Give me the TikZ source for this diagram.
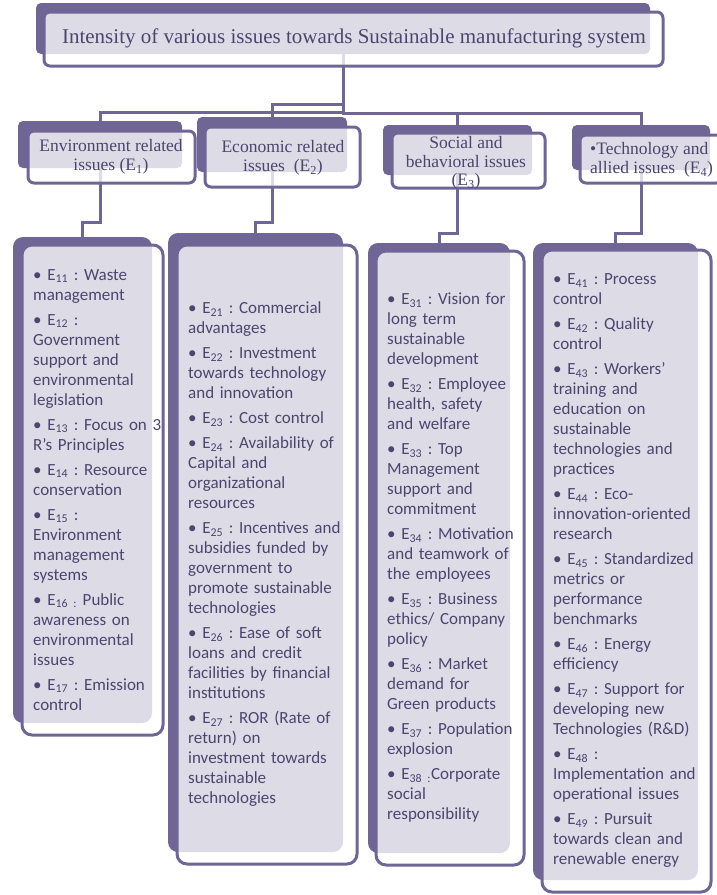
\documentclass[tikz,border=0pt]{standalone}
\usepackage{fontspec}
\setmainfont{Carlito}
\newfontfamily\tnr{Liberation Serif}
\usetikzlibrary{fit,backgrounds}
\definecolor{dk}{RGB}{111,102,150}
\definecolor{tx}{RGB}{76,69,110}
\newcommand\Es[1]{E\textsubscript{#1}}
\frenchspacing
\begin{document}
\begin{tikzpicture}[x=1pt,y=-1pt,
  dkbox/.style={fill=dk, inner sep=0pt, outer sep=0pt, rounded corners=5pt},
  frbox/.style={draw=dk, line width=3pt, fill=white, fill opacity=0.77, inner sep=0pt, outer sep=0pt, rounded corners=6pt},
  bigr/.style={rounded corners=10pt},
  conn/.style={draw=dk, line width=3pt},
  ttl/.style={font=\tnr\fontsize{21}{24}\selectfont, text=tx, inner sep=0pt},
  lvl/.style={font=\tnr\fontsize{17.5}{18.5}\selectfont, text=tx, align=center, inner sep=0pt},
  coltext/.style={font=\fontsize{17}{20}\selectfont\frenchspacing, text=tx, align=left, text width=175pt, inner sep=0pt, anchor=west}]
\useasboundingbox (0,0) rectangle (716,895);

% top
\node[dkbox, fit={(36,3)(650,54)}] (td) {};
\node[frbox, fit={(44,12)(663,66)}] (tf) {};
% second level
\node[dkbox, fit={(18,121)(182,168)}] (e1d) {};
\node[frbox, fit={(28,131)(195,183)}] (e1f) {};
\node[dkbox, fit={(197,117)(347,172)}] (e2d) {};
\node[frbox, fit={(205,127)(360,187)}] (e2f) {};
\node[dkbox, fit={(383,125)(532,175)}] (e3d) {};
\node[frbox, fit={(392,133)(545,188)}] (e3f) {};
\node[dkbox, fit={(572,125)(710,170)}] (e4d) {};
\node[frbox, fit={(580,135)(722,183)}] (e4f) {};
% columns
\node[dkbox, bigr, fit={(13,237)(152,723)}] (c1d) {};
\node[frbox, bigr, fit={(22,245)(163,735)}] (c1f) {};
\node[dkbox, bigr, fit={(168,233)(343,852)}] (c2d) {};
\node[frbox, bigr, fit={(177,245)(357,864)}] (c2f) {};
\node[dkbox, bigr, fit={(368,243)(510,853)}] (c3d) {};
\node[frbox, bigr, fit={(376,251)(524,865)}] (c3f) {};
\node[dkbox, bigr, fit={(533,243)(698,880)}] (c4d) {};
\node[frbox, bigr, fit={(542,250)(711,892)}] (c4f) {};

% connectors
\coordinate (h0a) at (0,112);
\coordinate (h0b) at (0,104);
\coordinate (h0c) at (0,113);
\coordinate (h1) at (0,222);
\coordinate (h3) at (0,233);
\begin{scope}[on background layer]
\draw[conn] (td.center) -- (td.center |- h0a) -| (e1d.north);
\draw[conn] (td.center) -- (td.center |- h0b) -| (e2d.north);
\draw[conn] (td.center) -- (td.center |- h0c) -| (e3d.north);
\draw[conn] (td.center |- h0c) -| (e4d.north);
\draw[conn] (e1d.center) -- (e1d.center |- h1) -| (c1d.north);
\draw[conn] (e2d.center) -- (e2d.center |- h1) -| (c2d.north);
\draw[conn] (e3d.center) -- (e3d.center |- h3) -| (c3d.north);
\draw[conn] (e4d.center) -- (e4d.center |- h3) -| (c4d.north);
\end{scope}

% texts
\node[ttl] (tt) at (354,38) {Intensity of various issues towards Sustainable manufacturing system};
\node[lvl] (e1t) at (111,157) {Environment related\\issues (\Es{1})};
\node[lvl] (e2t) at (283,158) {Economic related\\issues\ \ (\Es{2})};
\node[lvl] (e3t) at (466,163) {Social and\\behavioral issues\\(\Es{3})};
\node[lvl, align=left, anchor=west] (e4t) at (590,160) {•Technology and\\allied issues\ \ (\Es{4})};

\node[coltext] (c1t) at (33,490) {%
• \Es{11} : Waste\\management\\[5pt]
• \Es{12} :\\Government\\support and\\environmental\\legislation\\[5pt]
• \Es{13} : Focus on 3\\R’s Principles\\[5pt]
• \Es{14} : Resource\\conservation\\[5pt]
• \Es{15} :\\Environment\\management\\systems\\[5pt]
• \Es{16 :} Public\\awareness on\\environmental\\issues\\[5pt]
• \Es{17} : Emission\\control};

\node[coltext] (c2t) at (188,554) {%
• \Es{21} : Commercial\\advantages\\[5pt]
• \Es{22} : Investment\\towards technology\\and innovation\\[5pt]
• \Es{23} : Cost control\\[5pt]
• \Es{24} : Availability of\\Capital and\\organizational\\resources\\[5pt]
• \Es{25} : Incentives and\\subsidies funded by\\government to\\promote sustainable\\technologies\\[5pt]
• \Es{26} : Ease of soft\\loans and credit\\facilities by financial\\institutions\\[5pt]
• \Es{27} : ROR (Rate of\\return) on\\investment towards\\sustainable\\technologies};

\node[coltext] (c3t) at (387,558) {%
• \Es{31} : Vision for\\long term\\sustainable\\development\\[5pt]
• \Es{32} : Employee\\health, safety\\and welfare\\[5pt]
• \Es{33} : Top\\Management\\support and\\commitment\\[5pt]
• \Es{34} : Motivation\\and teamwork of\\the employees\\[5pt]
• \Es{35} : Business\\ethics/ Company\\policy\\[5pt]
• \Es{36} : Market\\demand for\\Green products\\[5pt]
• \Es{37} : Population\\explosion\\[5pt]
• \Es{38 :}Corporate\\social\\responsibility};

\node[coltext] (c4t) at (553,571) {%
• \Es{41} : Process\\control\\[5pt]
• \Es{42} : Quality\\control\\[5pt]
• \Es{43} : Workers’\\training and\\education on\\sustainable\\technologies and\\practices\\[5pt]
• \Es{44} : Eco-\\innovation-oriented\\research\\[5pt]
• \Es{45} : Standardized\\metrics or\\performance\\benchmarks\\[5pt]
• \Es{46} : Energy\\efficiency\\[5pt]
• \Es{47} : Support for\\developing new\\Technologies (R\&D)\\[5pt]
• \Es{48} :\\Implementation and\\operational issues\\[5pt]
• \Es{49} : Pursuit\\towards clean and\\renewable energy};
\end{tikzpicture}
\end{document}
